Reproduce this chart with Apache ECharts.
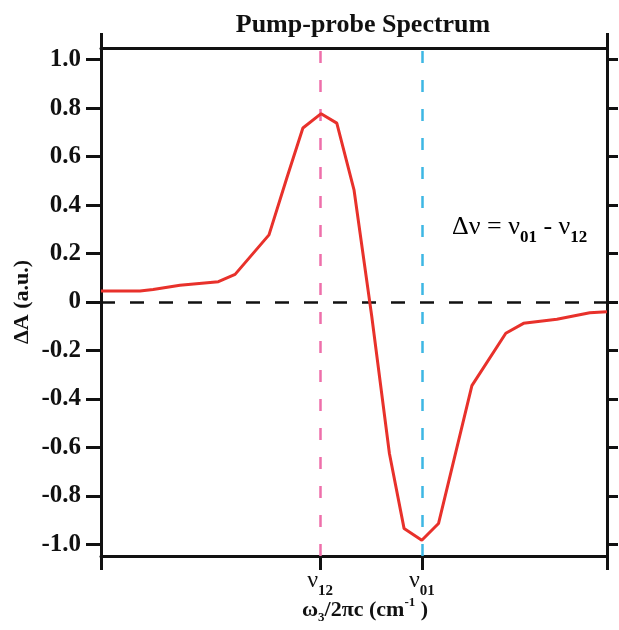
<!DOCTYPE html>
<html>
<head>
<meta charset="utf-8">
<script src="https://cdn.jsdelivr.net/npm/echarts@6/dist/echarts.min.js"></script>
<style>html,body{margin:0;padding:0;background:#fff;}#c{width:619px;height:630px;}</style>
</head>
<body>
<div id="c"></div>
<script>
// Data (x in arbitrary frequency units 0..100, y = ΔA in a.u.)
var freqX = [0, 7.7, 10.3, 15.6, 23.2, 26.5, 33.2, 36.8, 39.9, 43.5, 46.6, 50.0, 53.5, 57.0, 59.9, 63.4, 66.7, 73.3, 80.0, 83.5, 90.1, 96.6, 100];
var deltaA = [0.045, 0.045, 0.052, 0.069, 0.084, 0.114, 0.277, 0.517, 0.718, 0.777, 0.738, 0.463, -0.058, -0.625, -0.935, -0.983, -0.914, -0.345, -0.129, -0.088, -0.071, -0.044, -0.040];
var yTicks = [-1.0, -0.8, -0.6, -0.4, -0.2, 0, 0.2, 0.4, 0.6, 0.8, 1.0];
var nu12 = 43.3;
var nu01 = 63.4;
var xTickValues = [0, nu12, nu01, 100];
var xTickLabels = {};
xTickLabels[nu12] = '{n|ν}{s|12}';
xTickLabels[nu01] = '{n|ν}{s|01}';

var FONT = '"Liberation Serif","Times New Roman",serif';
var seriesData = freqX.map(function (x, i) { return [x, deltaA[i]]; });

var chart = echarts.init(document.getElementById('c'), null, {renderer: 'canvas'});
chart.setOption({
  animation: false,
  backgroundColor: '#fff',
  title: {
    text: 'Pump-probe Spectrum',
    left: 358, top: 7, textAlign: 'center',
    textStyle: {fontFamily: FONT, fontWeight: 'bold', fontSize: 26, color: '#111'}
  },
  grid: {left: 101, right: 12, top: 48, bottom: 74, outerBoundsMode: 'none', containLabel: false},
  xAxis: [{
    type: 'value', min: 0, max: 100, position: 'bottom',
    axisLine: {show: true, onZero: false, lineStyle: {color: '#111', width: 3}},
    axisTick: {show: true, inside: false, length: 14, lineStyle: {color: '#111', width: 3}, customValues: xTickValues},
    axisLabel: {
      show: true, margin: 9, customValues: [nu12, nu01],
      formatter: function (v) { return xTickLabels[v] || ''; },
      rich: {
        n: {fontFamily: FONT, fontSize: 24, color: '#111', lineHeight: 34, verticalAlign: 'top', padding: [4, 0, 0, 0]},
        s: {fontFamily: FONT, fontSize: 15, fontWeight: 'bold', color: '#111', lineHeight: 34, verticalAlign: 'bottom'}
      }
    },
    splitLine: {show: false},
    name: '{a|ω}{b|3}{a|/2πc (cm}{c|-1}{a| )}',
    nameLocation: 'middle', nameGap: 40, nameMoveOverlap: false,
    nameTextStyle: {
      padding: [0, 0, 0, 22],
      rich: {
        a: {fontFamily: FONT, fontSize: 22, fontWeight: 'bold', color: '#111', lineHeight: 28},
        b: {fontFamily: FONT, fontSize: 13, fontWeight: 'bold', color: '#111', lineHeight: 28, verticalAlign: 'bottom'},
        c: {fontFamily: FONT, fontSize: 13, fontWeight: 'bold', color: '#111', lineHeight: 28, verticalAlign: 'top'}
      }
    }
  }, {
    type: 'value', min: 0, max: 100, position: 'top',
    axisLine: {show: true, onZero: false, lineStyle: {color: '#111', width: 3}},
    axisTick: {show: true, inside: false, length: 15, lineStyle: {color: '#111', width: 3}, customValues: [0, 100]},
    axisLabel: {show: false},
    splitLine: {show: false}
  }],
  yAxis: [{
    type: 'value', min: -1.048, max: 1.048, position: 'left',
    axisLine: {show: true, onZero: false, lineStyle: {color: '#111', width: 3}},
    axisTick: {show: true, inside: false, length: 15, lineStyle: {color: '#111', width: 3}, customValues: yTicks},
    axisLabel: {
      show: true, margin: 20, customValues: yTicks,
      fontFamily: FONT, fontWeight: 'bold', fontSize: 25, color: '#111',
      formatter: function (v) { return Math.abs(v) < 1e-9 ? '0' : v.toFixed(1); }
    },
    splitLine: {show: false},
    name: 'ΔA (a.u.)', nameLocation: 'middle', nameGap: 68, nameRotate: 90, nameMoveOverlap: false,
    nameTextStyle: {fontFamily: FONT, fontWeight: 'bold', fontSize: 22, color: '#111'}
  }, {
    type: 'value', min: -1.048, max: 1.048, position: 'right',
    axisLine: {show: true, onZero: false, lineStyle: {color: '#111', width: 3}},
    axisTick: {show: true, inside: false, length: 11, lineStyle: {color: '#111', width: 3}, customValues: yTicks},
    axisLabel: {show: false},
    splitLine: {show: false}
  }],
  graphic: [{
    type: 'text', left: 452, top: 214, z: 10,
    style: {
      text: '{a|Δν = ν}{s|01}{a| - ν}{s|12}',
      rich: {
        a: {fontFamily: FONT, fontSize: 26, color: '#111', lineHeight: 32, verticalAlign: 'top'},
        s: {fontFamily: FONT, fontSize: 17, fontWeight: 'bold', color: '#111', lineHeight: 32, verticalAlign: 'bottom'}
      }
    }
  }],
  series: [{
    type: 'line', data: seriesData, xAxisIndex: 0, yAxisIndex: 0,
    showSymbol: false, symbol: 'none', z: 5,
    lineStyle: {color: '#E8312B', width: 3},
    markLine: {
      silent: true, symbol: ['none', 'none'], label: {show: false}, z: 3,
      data: [
        {xAxis: nu12, lineStyle: {color: '#EE6FAA', width: 2.5, type: [12, 17]}},
        {xAxis: nu01, lineStyle: {color: '#3DB7E4', width: 2.5, type: [12, 17]}},
        {yAxis: 0, lineStyle: {color: '#111', width: 2.5, type: [14, 15]}}
      ]
    }
  }]
});
</script>
</body>
</html>
